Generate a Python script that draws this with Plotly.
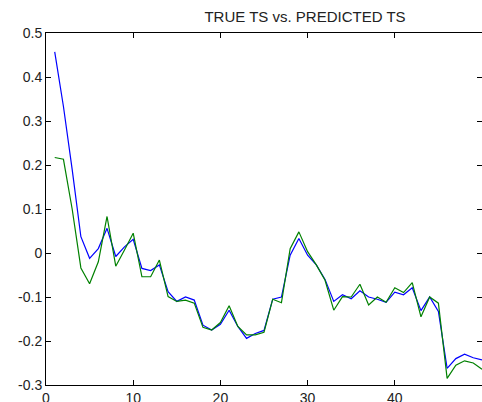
import plotly.graph_objects as go

t = list(range(1, 51))

true_ts = [0.457, 0.333, 0.19, 0.037, -0.012, 0.01, 0.056, -0.008, 0.014, 0.031,
           -0.035, -0.04, -0.027, -0.088, -0.11, -0.1, -0.107, -0.164, -0.175, -0.162,
           -0.13, -0.167, -0.194, -0.183, -0.176, -0.105, -0.1, -0.005, 0.033, -0.005,
           -0.027, -0.06, -0.11, -0.095, -0.104, -0.086, -0.1, -0.105, -0.112, -0.089,
           -0.095, -0.079, -0.131, -0.1, -0.133, -0.262, -0.24, -0.23, -0.238, -0.243]

pred_ts = [0.217, 0.213, 0.1, -0.034, -0.07, -0.02, 0.083, -0.03, 0.007, 0.045,
           -0.054, -0.054, -0.016, -0.099, -0.11, -0.107, -0.114, -0.169, -0.175, -0.158,
           -0.12, -0.167, -0.186, -0.186, -0.18, -0.105, -0.113, 0.01, 0.048, 0.003,
           -0.027, -0.062, -0.13, -0.099, -0.1, -0.071, -0.118, -0.1, -0.112, -0.079,
           -0.09, -0.0675, -0.145, -0.1, -0.114, -0.285, -0.255, -0.245, -0.25, -0.264]

x_ticks = [0, 10, 20, 30, 40, 50]
y_ticks = [-0.3, -0.2, -0.1, 0, 0.1, 0.2, 0.3, 0.4, 0.5]
y_labels = ["-0.3", "-0.2", "-0.1", "0", "0.1", "0.2", "0.3", "0.4", "0.5"]

fig = go.Figure()
fig.add_trace(go.Scatter(x=t, y=true_ts, mode="lines",
                         line=dict(color="#0000ff", width=1.2), name="true"))
fig.add_trace(go.Scatter(x=t, y=pred_ts, mode="lines",
                         line=dict(color="#008000", width=1.2), name="predicted"))

fig.update_layout(
    width=482, height=402,
    margin=dict(l=46, r=0, t=33, b=17, autoexpand=False),
    paper_bgcolor="white", plot_bgcolor="white",
    showlegend=False,
    font=dict(family="Liberation Sans, Arial, sans-serif", size=14, color="#222"),
    title=dict(text="TRUE TS vs. PREDICTED TS", x=305 / 482, xref="container", xanchor="center",
               y=1 - 17 / 402, yref="container", yanchor="middle",
               font=dict(size=15, color="#222")),
)
fig.update_xaxes(range=[0, 50], tickvals=x_ticks, ticks="inside", ticklen=5,
                 tickcolor="black", showline=True, linecolor="black", linewidth=1,
                 mirror="allticks", showgrid=False, zeroline=False, automargin=False)
fig.update_yaxes(range=[-0.3, 0.5], tickvals=y_ticks, ticktext=y_labels, ticks="inside",
                 ticklen=5, tickcolor="black", showline=True, linecolor="black", linewidth=1,
                 mirror="allticks", showgrid=False, zeroline=False, automargin=False)

fig.write_html(
    "out.html",
    config={"displayModeBar": False},
    post_script="document.body.style.margin='0';document.body.style.overflow='hidden';",
)
